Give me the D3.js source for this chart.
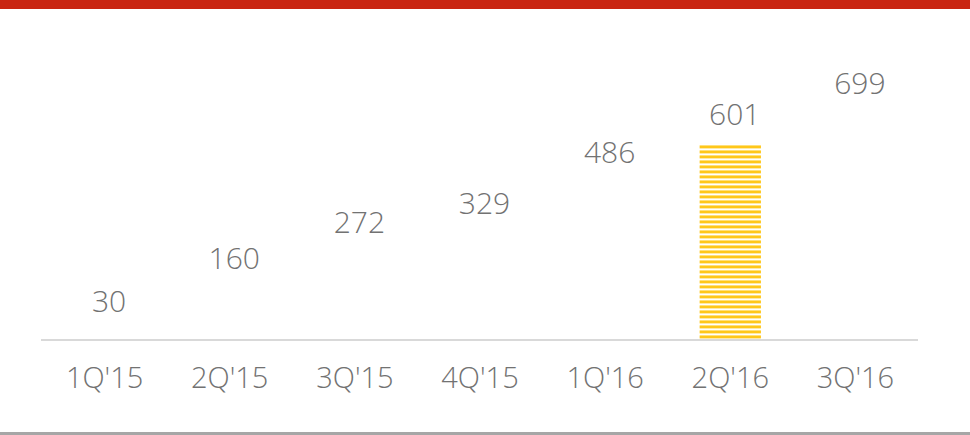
<!DOCTYPE html>
<html>
<head>
<meta charset="utf-8">
<script src="https://cdn.jsdelivr.net/npm/d3@7"></script>
<style>
  body { margin: 0; background: #fff; }
  svg { display: block; }
  text { font-family: "Open Sans", "Lato", sans-serif; font-weight: 300; fill: #727272; }
</style>
</head>
<body>
<div id="chart"></div>
<script>
const quarters = ["1Q'15", "2Q'15", "3Q'15", "4Q'15", "1Q'16", "2Q'16", "3Q'16"];
const values = [30, 160, 272, 329, 486, 601, 699];
const highlighted = ["2Q'16"];

const width = 970, height = 435;
const baseY = 340;

const svg = d3.select('#chart').append('svg')
  .attr('width', width).attr('height', height);

// striped fill for the highlighted bar
const defs = svg.append('defs');
const pat = defs.append('pattern')
  .attr('id', 'stripes')
  .attr('patternUnits', 'userSpaceOnUse')
  .attr('width', 10).attr('height', 5);
pat.append('rect').attr('width', 10).attr('height', 5).attr('fill', '#fff');
pat.append('rect').attr('y', 0).attr('width', 10).attr('height', 1).attr('fill', '#ffe07a');
pat.append('rect').attr('y', 1).attr('width', 10).attr('height', 2).attr('fill', '#ffc71a');
pat.append('rect').attr('y', 3).attr('width', 10).attr('height', 1).attr('fill', '#ffeaa6');

// red band on top
svg.append('rect').attr('x', 0).attr('y', 0).attr('width', width).attr('height', 9).attr('fill', '#c92512');

const x = d3.scaleBand().domain(quarters).range([42, 918]).paddingInner(0.51).paddingOuter(0.255);
const y = d3.scaleLinear().domain([0, 699]).range([baseY, 112]);

const g = svg.append('g');

g.selectAll('.bar')
  .data(quarters)
  .enter().append('rect')
  .attr('class', 'bar')
  .attr('x', function(d) { return x(d); })
  .attr('width', x.bandwidth())
  .attr('y', function(d, i) { return y(values[i]); })
  .attr('height', function(d, i) { return baseY - y(values[i]); })
  .attr('fill', function(d) { return highlighted.includes(d) ? 'url(#stripes)' : '#fff'; });

/// value labels sit a little right of the band centre, like the source
g.selectAll('.val')
  .data(quarters)
  .enter().append('text')
  .attr('class', 'val')
  .attr('x', function(d) { return x(d) + x.bandwidth() / 2 + 4.5; })
  .attr('y', function(d, i) { return y(values[i]) - 18.5; })
  .attr('text-anchor', 'middle')
  .attr('font-size', 30)
  .text(function(d, i) { return values[i]; });

// baseline + category axis
const axis = d3.axisBottom(x).tickSize(0).tickPadding(0);
const ax = svg.append('g').attr('transform', 'translate(0,' + baseY + ')').call(axis);
ax.select('.domain').attr('stroke', '#d9d9d9').attr('stroke-width', 2).attr('d', 'M41,0H918');
ax.selectAll('.tick text')
  .attr('y', 48)
  .attr('dy', 0)
  .attr('font-size', 29)
  .attr('fill', '#727272');

// bottom rule
svg.append('line').attr('x1', 0).attr('x2', width).attr('y1', 433.5).attr('y2', 433.5)
  .attr('stroke', '#a6a6a6').attr('stroke-width', 3);
</script>
</body>
</html>
